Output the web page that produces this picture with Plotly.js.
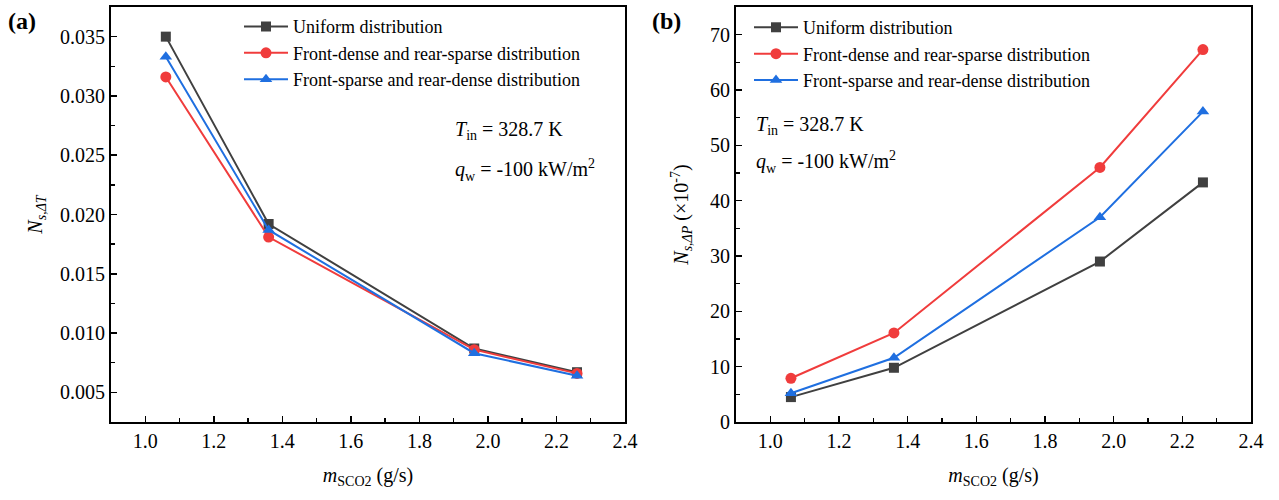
<!DOCTYPE html>
<html>
<head>
<meta charset="utf-8">
<script src="https://cdn.plot.ly/plotly-3.0.1.min.js"></script>
<style>
html,body{margin:0;padding:0;background:#fff;}
#chart{width:1279px;height:500px;}
</style>
</head>
<body>
<div id="chart"></div>
<script>
// Data
const massFlow = [1.06, 1.36, 1.96, 2.26];
const seriesNames = ["Uniform distribution", "Front-dense and rear-sparse distribution", "Front-sparse and rear-dense distribution"];
// Panel (a): N_s,ΔT
const nsdtUniform = [0.0350, 0.0192, 0.0087, 0.0067];
const nsdtFrontDense = [0.0316, 0.0181, 0.0086, 0.0066];
const nsdtFrontSparse = [0.0333, 0.0187, 0.0083, 0.0064];
// Panel (b): N_s,ΔP (×10^-7)
const nsdpUniform = [4.5, 9.8, 29.0, 43.3];
const nsdpFrontDense = [7.9, 16.1, 46.0, 67.3];
const nsdpFrontSparse = [5.2, 11.6, 37.0, 56.1];

const colors = ["#404040", "#f03c3c", "#1f6fe0"];
const symbols = ["square", "circle", "triangle-up"];
const msizes = [10, 11, 11];
const FONT = "'Liberation Serif', 'Times New Roman', serif";

function mk(y, i, xa, ya, leg, show) {
  return {
    x: massFlow, y: y, name: seriesNames[i], type: "scatter", mode: "lines+markers",
    xaxis: xa, yaxis: ya, legend: leg, showlegend: show,
    line: {color: colors[i], width: 2},
    marker: {color: colors[i], symbol: symbols[i], size: msizes[i]}
  };
}

const data = [
  mk(nsdtUniform, 0, "x", "y", "legend", true),
  mk(nsdtFrontDense, 1, "x", "y", "legend", true),
  mk(nsdtFrontSparse, 2, "x", "y", "legend", true),
  mk(nsdpUniform, 0, "x2", "y2", "legend2", true),
  mk(nsdpFrontDense, 1, "x2", "y2", "legend2", true),
  mk(nsdpFrontSparse, 2, "x2", "y2", "legend2", true)
];

const axCommon = {
  showline: true, mirror: true, linecolor: "#000", linewidth: 2,
  ticks: "inside", ticklen: 6, tickwidth: 1.5, tickcolor: "#000",
  showgrid: false, zeroline: false,
  tickfont: {family: FONT, size: 20, color: "#000"}
};
const xCommon = Object.assign({}, axCommon, {
  range: [0.9, 2.4], dtick: 0.2, tick0: 1.0, tickformat: ".1f",
  minor: {dtick: 0.1, tick0: 1.0, ticks: "inside", ticklen: 4, tickcolor: "#000", tickwidth: 1.5},
  title: {text: "<i>m</i><sub>SCO2</sub> (g/s)", font: {family: FONT, size: 20, color: "#000"}, standoff: 17}
});

const layout = {
  width: 1279, height: 500,
  paper_bgcolor: "#fff", plot_bgcolor: "#fff",
  margin: {l: 0, r: 0, t: 7, b: 78},
  font: {family: FONT, color: "#000"},
  xaxis: Object.assign({}, xCommon, {domain: [111/1279, 625/1279], anchor: "y"}),
  yaxis: Object.assign({}, axCommon, {
    domain: [0, 1], anchor: "x",
    range: [0.0025, 0.0375], dtick: 0.005, tick0: 0, tickformat: ".3f",
    minor: {dtick: 0.0025, tick0: 0, ticks: "inside", ticklen: 4, tickcolor: "#000", tickwidth: 1.5},
    title: {text: "<i>N</i><sub><i>s,ΔT</i></sub>", font: {family: FONT, size: 20, color: "#000"}, standoff: 12}
  }),
  xaxis2: Object.assign({}, xCommon, {domain: [736/1279, 1251/1279], anchor: "y2"}),
  yaxis2: Object.assign({}, axCommon, {
    domain: [0, 1], anchor: "x2",
    range: [0, 75], dtick: 10, tick0: 0,
    minor: {dtick: 5, tick0: 0, ticks: "inside", ticklen: 4, tickcolor: "#000", tickwidth: 1.5},
    title: {text: "<i>N</i><sub><i>s,ΔP</i></sub> (×10<sup>-7</sup>)", font: {family: FONT, size: 20, color: "#000"}, standoff: 16}
  }),
  legend: {
    x: 239/1279, y: 0.997, xanchor: "left", yanchor: "top",
    bgcolor: "rgba(0,0,0,0)", borderwidth: 0, itemwidth: 44,
    font: {family: FONT, size: 18, color: "#000"}, tracegroupgap: 0
  },
  legend2: {
    x: 749/1279, y: 0.995, xanchor: "left", yanchor: "top",
    bgcolor: "rgba(0,0,0,0)", borderwidth: 0, itemwidth: 44,
    font: {family: FONT, size: 18, color: "#000"}, tracegroupgap: 0
  },
  annotations: [
    {xref: "paper", yref: "paper", x: 6/1279, y: 1.0, xanchor: "left", yanchor: "middle",
     text: "<b>(a)</b>", showarrow: false, font: {family: FONT, size: 24, color: "#000"}, yshift: -14},
    {xref: "paper", yref: "paper", x: 650/1279, y: 1.0, xanchor: "left", yanchor: "middle",
     text: "<b>(b)</b>", showarrow: false, font: {family: FONT, size: 24, color: "#000"}, yshift: -14},
    {xref: "x domain", yref: "y domain", x: 0.665, y: 0.703, xanchor: "left", yanchor: "middle",
     text: "<i>T</i><sub>in</sub> = 328.7 K", showarrow: false, font: {family: FONT, size: 20, color: "#000"}},
    {xref: "x domain", yref: "y domain", x: 0.665, y: 0.607, xanchor: "left", yanchor: "middle",
     text: "<i>q</i><sub>w</sub> = -100 kW/m<sup>2</sup>", showarrow: false, font: {family: FONT, size: 20, color: "#000"}},
    {xref: "x2 domain", yref: "y2 domain", x: 0.035, y: 0.715, xanchor: "left", yanchor: "middle",
     text: "<i>T</i><sub>in</sub> = 328.7 K", showarrow: false, font: {family: FONT, size: 20, color: "#000"}},
    {xref: "x2 domain", yref: "y2 domain", x: 0.035, y: 0.627, xanchor: "left", yanchor: "middle",
     text: "<i>q</i><sub>w</sub> = -100 kW/m<sup>2</sup>", showarrow: false, font: {family: FONT, size: 20, color: "#000"}}
  ]
};

Plotly.newPlot("chart", data, layout, {displayModeBar: false, staticPlot: true});
</script>
</body>
</html>
